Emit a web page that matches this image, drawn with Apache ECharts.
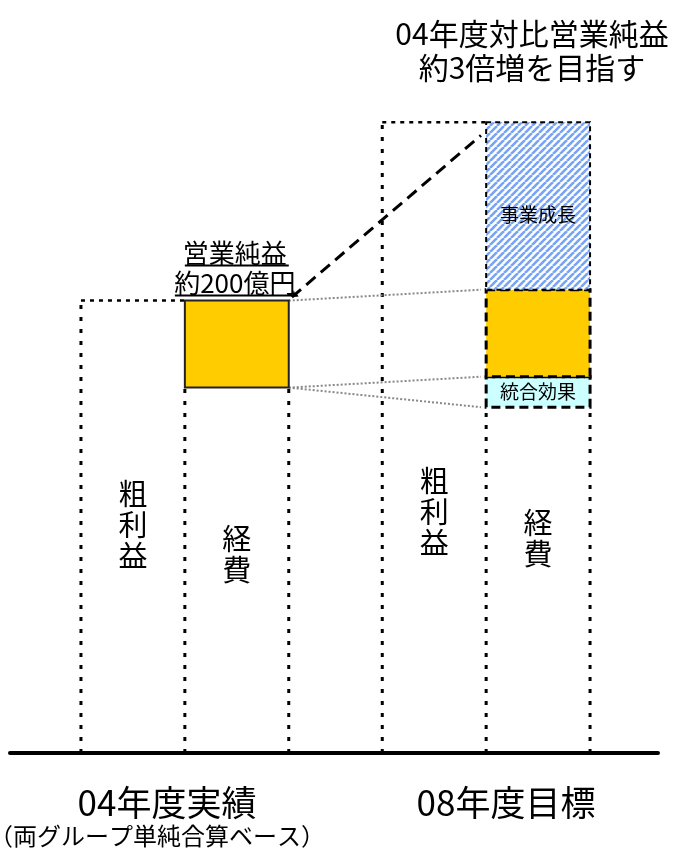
<!DOCTYPE html>
<html>
<head>
<meta charset="utf-8">
<title>営業純益</title>
<script src="https://cdn.jsdelivr.net/npm/echarts@6/dist/echarts.min.js"></script>
<style>
  html, body { margin: 0; padding: 0; background: #fff; }
  #main { width: 685px; height: 848px; }
</style>
</head>
<body>
<div id="main"></div>
<script>
// values in 億円 (営業純益 = 200)
const periods = ['04年度実績', '08年度目標'];
const periodNotes = ['（両グループ単純合算ベース）', ''];
const grossProfit = [1040, 1450];
const expenses = [840, 795];
const synergy = [0, 70];
const opProfit = [200, 200];
const growth = [0, 385];
const grossLabel = '粗利益';
const expenseLabel = '経費';
const segmentLabels = ['統合効果', '', '事業成長'];
const profitLabel = ['営業純益', '約200億円'];
const headline = ['04年度対比営業純益', '約3倍増を目指す'];

const FONT = '"Noto Sans CJK JP", "Noto Sans", sans-serif';
const groupX = [0, 2.9];               // left edge of each group (column units)
const labelLevel = [[524, 457], [554, 492]]; // where the vertical words sit

// hatch for 事業成長
function hatch() {
  const s = 7;
  const c = document.createElement('canvas');
  c.width = s; c.height = s;
  const g = c.getContext('2d');
  g.fillStyle = '#ffffff';
  g.fillRect(0, 0, s, s);
  g.strokeStyle = '#77a4f4';
  g.lineWidth = 2.6;
  for (let k = -1; k <= 1; k++) {
    g.beginPath();
    g.moveTo(k * s, s);
    g.lineTo(k * s + s, 0);
    g.stroke();
  }
  return c;
}
const hatchImg = hatch();

function vtext(str) { return str.split('').join('\n'); }

const centered = { align: 'center', verticalAlign: 'middle', textAlign: 'center', textVerticalAlign: 'middle' };

// dotted outlines of 粗利益 / 経費 columns
function renderOutline(params, api) {
  const i = api.value(0);
  const gp = api.value(1), ex = api.value(2);
  const x0 = groupX[i];
  const p = (x, y) => api.coord([x, y]);
  const dots = { stroke: '#000', fill: null, lineWidth: 3, lineDash: [4, 8] };
  const dash = { stroke: '#000', fill: null, lineWidth: 2.5, lineDash: [4, 5] };
  const a0 = p(x0, 0), a1 = p(x0, gp), a2 = p(x0 + 1, gp);
  const b0 = p(x0 + 1, 0), b1 = p(x0 + 1, ex);
  const c0 = p(x0 + 2, 0), c1 = p(x0 + 2, ex);
  const l1 = p(x0 + 0.5, labelLevel[i][0]);
  const l2 = p(x0 + 1.5, labelLevel[i][1]);
  const txt = (pt, s) => ({
    type: 'text', x: pt[0], y: pt[1],
    style: Object.assign({ text: vtext(s), fontSize: 29, fontFamily: FONT, lineHeight: 31, fill: '#000' }, centered)
  });
  return {
    type: 'group',
    children: [
      { type: 'line', shape: { x1: a0[0], y1: a0[1], x2: a1[0], y2: a1[1] }, style: dots },
      { type: 'line', shape: { x1: a1[0], y1: a1[1], x2: a2[0], y2: a2[1] }, style: dash },
      { type: 'line', shape: { x1: b0[0], y1: b0[1], x2: b1[0], y2: b1[1] }, style: dots },
      { type: 'line', shape: { x1: c0[0], y1: c0[1], x2: c1[0], y2: c1[1] }, style: dots },
      txt(l1, grossLabel),
      txt(l2, expenseLabel)
    ]
  };
}

// stacked boxes on top of 経費
const segs = [];
periods.forEach((name, i) => {
  let base = expenses[i];
  [synergy[i], opProfit[i], growth[i]].forEach((v, k) => {
    if (v > 0) { segs.push([i, base, base + v, k]); base += v; }
  });
});

function renderBox(params, api) {
  const i = api.value(0), lo = api.value(1), hi = api.value(2), k = api.value(3);
  const x0 = groupX[i];
  const a = api.coord([x0 + 1, lo]), b = api.coord([x0 + 2, hi]);
  const rect = { x: a[0], y: b[1], width: b[0] - a[0], height: a[1] - b[1] };
  let style;
  if (k === 0) style = { fill: '#ccffff', stroke: '#000', lineWidth: 3, lineDash: [9, 5] };
  else if (k === 1) style = i === 0
    ? { fill: '#ffcc00', stroke: '#222', lineWidth: 2 }
    : { fill: '#ffcc00', stroke: '#000', lineWidth: 3, lineDash: [9, 5] };
  else style = { fill: { image: hatchImg, repeat: 'repeat' }, stroke: '#000', lineWidth: 2, lineDash: [5, 4] };
  const children = [{ type: 'rect', shape: rect, style: style }];
  const lab = segmentLabels[k];
  if (lab) {
    const cy = k === 2 ? b[1] + 93 : (a[1] + b[1]) / 2;
    children.push({
      type: 'text', x: (a[0] + b[0]) / 2, y: cy,
      style: Object.assign({ text: lab, fontSize: 19, fontFamily: FONT, fill: '#000' }, centered)
    });
  }
  if (k === 1 && i === 0) {
    const cx = (a[0] + b[0]) / 2, top = b[1];
    const t = (s, y) => ({
      type: 'text', x: cx - 2, y: y,
      style: Object.assign({ text: s, fontSize: 26, fontFamily: FONT, fill: '#000' }, centered)
    });
    children.push(t(profitLabel[0], top - 47), t(profitLabel[1], top - 17));
    children.push({ type: 'line', shape: { x1: a[0], y1: top - 35, x2: b[0], y2: top - 35 }, style: { stroke: '#000', lineWidth: 2 } });
    children.push({ type: 'line', shape: { x1: a[0] - 10, y1: top - 5, x2: b[0] + 9, y2: top - 5 }, style: { stroke: '#000', lineWidth: 2 } });
  }
  return { type: 'group', children: children };
}

// gray dotted links between 04 profit box and 08 stack
const leftTop = grossProfit[0], leftBot = expenses[0];
const rightTop = expenses[1] + synergy[1] + opProfit[1], rightMid = expenses[1] + synergy[1], rightBot = expenses[1];
const links = [
  { coords: [[2, leftTop], [3.85, rightTop]] },
  { coords: [[2, leftBot], [3.85, rightMid]] },
  { coords: [[2, leftBot], [3.85, rightBot]] }
];
const jump = [{ coords: [[2.03, grossProfit[0] + 8], [3.85, grossProfit[1] - 30]] }];

const chart = echarts.init(document.getElementById('main'));
chart.setOption({
  animation: false,
  backgroundColor: '#fff',
  grid: { left: 10, right: 27, top: 57, bottom: 95 },
  xAxis: {
    type: 'value', min: -0.683, max: 5.554,
    axisLine: { show: true, lineStyle: { color: '#000', width: 4 } },
    axisTick: { show: false }, axisLabel: { show: false }, splitLine: { show: false }
  },
  yAxis: { type: 'value', min: 0, max: 1600, show: false, splitLine: { show: false } },
  series: [
    {
      type: 'custom', name: 'outline', renderItem: renderOutline,
      data: periods.map((p, i) => [i, grossProfit[i], expenses[i]]), z: 2
    },
    {
      type: 'lines', coordinateSystem: 'cartesian2d', name: 'link',
      lineStyle: { color: '#888', width: 2, type: [2, 2], opacity: 1 }, symbol: 'none',
      data: links, z: 3
    },
    {
      type: 'lines', coordinateSystem: 'cartesian2d', name: 'jump',
      lineStyle: { color: '#000', width: 3, type: [12, 7], opacity: 1 },
      symbol: ['arrow', 'none'], symbolSize: 6,
      data: jump, z: 3
    },
    { type: 'custom', name: 'stack', renderItem: renderBox, data: segs, z: 4 }
  ],
  graphic: [
    { type: 'text', x: 532, y: 34, style: Object.assign({ text: headline[0], fontSize: 30, fontFamily: FONT, fill: '#000' }, centered) },
    { type: 'text', x: 532, y: 68, style: Object.assign({ text: headline[1], fontSize: 30, fontFamily: FONT, fill: '#000' }, centered) },
    { type: 'text', x: 167, y: 803, style: Object.assign({ text: periods[0], fontSize: 35, fontFamily: FONT, fill: '#000' }, centered) },
    { type: 'text', x: 506, y: 803, style: Object.assign({ text: periods[1], fontSize: 35, fontFamily: FONT, fill: '#000' }, centered) },
    { type: 'text', x: 157, y: 836, style: Object.assign({ text: periodNotes[0], fontSize: 24, fontFamily: FONT, fill: '#000' }, centered) }
  ]
});
</script>
</body>
</html>
